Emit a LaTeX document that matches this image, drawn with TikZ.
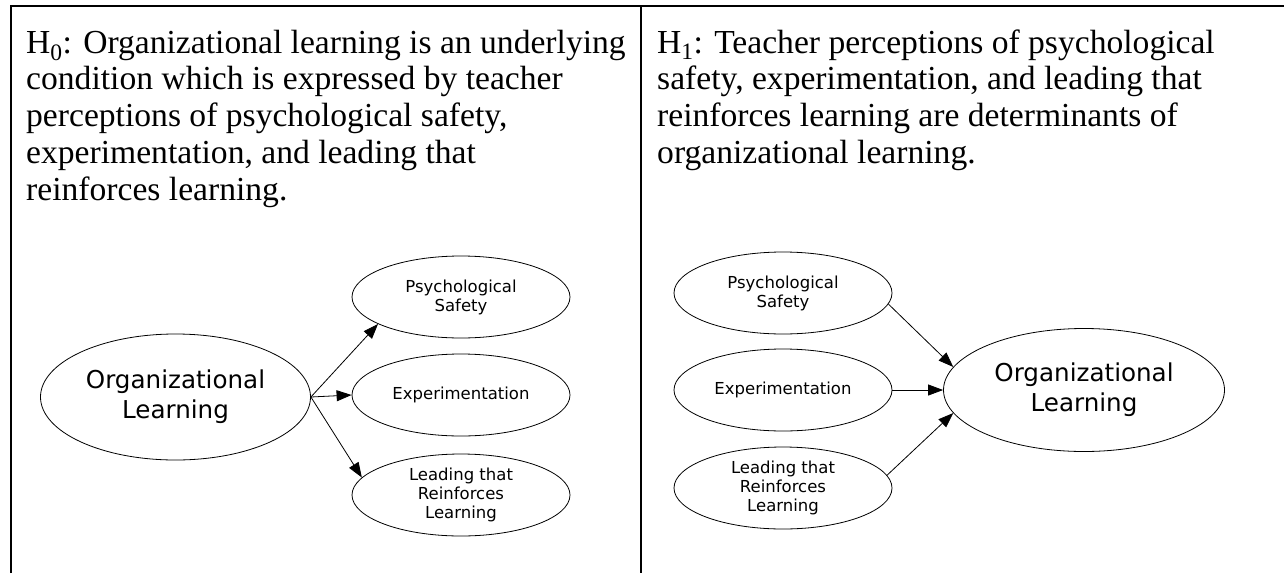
\documentclass[tikz,border=0pt]{standalone}
\usepackage{fontspec}
\setmainfont{Liberation Serif}
\newfontfamily\diagfont{DejaVu Sans}
\usetikzlibrary{shapes.geometric,arrows.meta}
\begin{document}
\begin{tikzpicture}[x=1pt,y=-1pt,
  frame/.style={line width=2pt},
  bodytext/.style={anchor=base west, inner sep=0pt, font=\fontsize{33.6}{36.75}\selectfont},
  bigell/.style={draw, ellipse, line width=0.8pt, inner sep=0pt, minimum width=270pt, minimum height=126pt, align=center, font=\diagfont\fontsize{24.6}{30}\selectfont},
  smallell/.style={draw, ellipse, line width=0.8pt, inner sep=0pt, minimum width=218pt, minimum height=82pt, align=center, font=\diagfont\fontsize{16.5}{19}\selectfont},
  arr/.style={-{Triangle[length=15pt,width=11pt]}, line width=0.8pt}
]
\useasboundingbox (0,0) rectangle (1284,573);
\fill[white] (0,0) rectangle (1284,573);
% table frame
\draw[frame] (11,573) -- (11,6) -- (1284,6);
\draw[frame] (641,6) -- (641,573);

% left text
\node[bodytext] (h0a) at (26,53) {H\textsubscript{0}: Organizational learning is an underlying};
\node[bodytext] (h0b) at (26,89.75) {condition which is expressed by teacher};
\node[bodytext] (h0c) at (26,126.5) {perceptions of psychological safety,};
\node[bodytext] (h0d) at (26,163.25) {experimentation, and leading that};
\node[bodytext] (h0e) at (26,200) {reinforces learning.};

% right text
\node[bodytext] (h1a) at (657,53) {H\textsubscript{1}: Teacher perceptions of psychological};
\node[bodytext] (h1b) at (657,89.75) {safety, experimentation, and leading that};
\node[bodytext] (h1c) at (657,126.5) {reinforces learning are determinants of};
\node[bodytext] (h1d) at (657,163.25) {organizational learning.};

% left diagram
\node[bigell] (OL) at (175.5,397) {Organizational\\Learning};
\node[smallell] (PS) at (461,297) {Psychological\\Safety};
\node[smallell] (EX) at (461,395) {Experimentation};
\node[smallell] (LR) at (461,495) {Leading that\\Reinforces\\Learning};
\draw[arr] (OL.east) -- (PS.198);
\draw[arr] (OL.east) -- (EX.west);
\draw[arr] (OL.east) -- (LR.170);

% right diagram
\node[smallell] (PS2) at (783,293) {Psychological\\Safety};
\node[smallell] (EX2) at (783,390) {Experimentation};
\node[smallell] (LR2) at (783,488) {Leading that\\Reinforces\\Learning};
\node[bigell, minimum width=281pt, minimum height=123pt] (OL2) at (1084,390) {Organizational\\Learning};
\draw[arr] (PS2.-6) -- (OL2.170);
\draw[arr] (EX2.east) -- (OL2.west);
\draw[arr] (LR2.7) -- (OL2.190);
\end{tikzpicture}
\end{document}
